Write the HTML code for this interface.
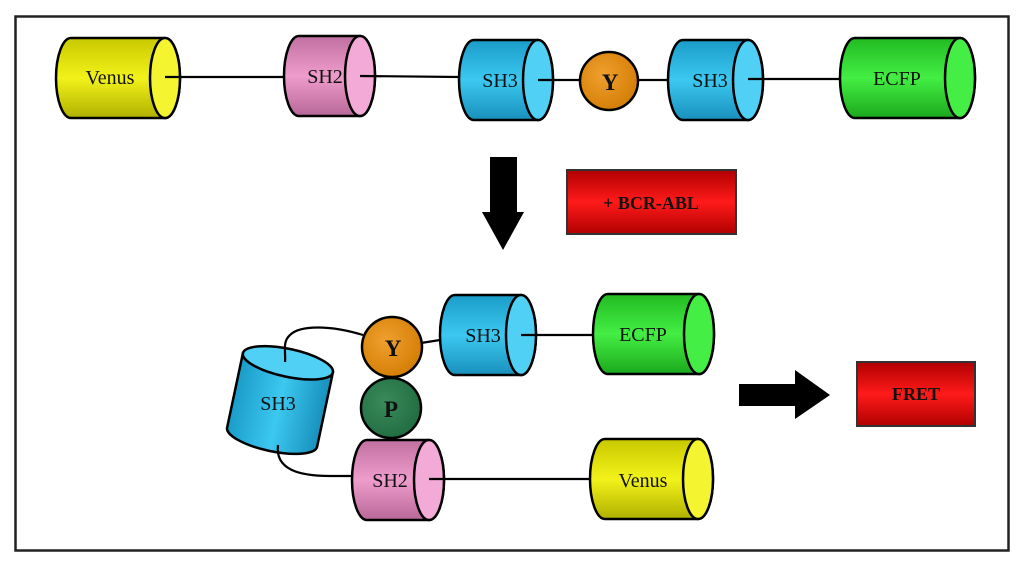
<!DOCTYPE html>
<html><head><style>body{margin:0;background:#fff}svg{display:block}</style></head><body>
<svg width="1024" height="566" viewBox="0 0 1024 566" xmlns="http://www.w3.org/2000/svg" font-family="Liberation Serif, serif">
<defs>
<linearGradient id="yel" x1="0" y1="0" x2="0" y2="1"><stop offset="0" stop-color="#c8c800"/><stop offset=".5" stop-color="#f2f21a"/><stop offset="1" stop-color="#b0b000"/></linearGradient>
<linearGradient id="pnk" x1="0" y1="0" x2="0" y2="1"><stop offset="0" stop-color="#c070a0"/><stop offset=".5" stop-color="#ee9ccc"/><stop offset="1" stop-color="#b86898"/></linearGradient>
<linearGradient id="blu" x1="0" y1="0" x2="0" y2="1"><stop offset="0" stop-color="#1a9cc8"/><stop offset=".5" stop-color="#3cc8f0"/><stop offset="1" stop-color="#1890bc"/></linearGradient>
<linearGradient id="blu2" x1="0" y1="0" x2="1" y2="0"><stop offset="0" stop-color="#1a9cc8"/><stop offset=".5" stop-color="#3cc8f0"/><stop offset="1" stop-color="#1890bc"/></linearGradient>
<linearGradient id="grn" x1="0" y1="0" x2="0" y2="1"><stop offset="0" stop-color="#22bb22"/><stop offset=".5" stop-color="#44ee44"/><stop offset="1" stop-color="#1ca81c"/></linearGradient>
<linearGradient id="red" x1="0" y1="0" x2="0" y2="1"><stop offset="0" stop-color="#b00000"/><stop offset=".5" stop-color="#ff1a1a"/><stop offset="1" stop-color="#b00000"/></linearGradient>
<radialGradient id="org" cx=".4" cy=".4" r=".7"><stop offset="0" stop-color="#f0a030"/><stop offset="1" stop-color="#d07a00"/></radialGradient>
<radialGradient id="dg" cx=".4" cy=".4" r=".7"><stop offset="0" stop-color="#3a8a5a"/><stop offset="1" stop-color="#1e6a40"/></radialGradient>
</defs>
<rect x="15.5" y="16.5" width="993" height="534" fill="none" stroke="#222" stroke-width="2.5"/>
<g stroke="#000" stroke-width="2.5">
<path d="M71 38 H165 A15 40 0 0 1 165 118 H71 A15 40 0 0 1 71 38Z" fill="url(#yel)"/><ellipse cx="165" cy="78" rx="15" ry="40" fill="#f4f430"/>
<path d="M299 36 H360 A15 40 0 0 1 360 116 H299 A15 40 0 0 1 299 36Z" fill="url(#pnk)"/><ellipse cx="360" cy="76" rx="15" ry="40" fill="#f4aad6"/>
<path d="M474 40 H538 A15 40 0 0 1 538 120 H474 A15 40 0 0 1 474 40Z" fill="url(#blu)"/><ellipse cx="538" cy="80" rx="15" ry="40" fill="#50d0f4"/>
<circle cx="609" cy="81" r="29" fill="url(#org)"/>
<path d="M683 40 H748 A15 40 0 0 1 748 120 H683 A15 40 0 0 1 683 40Z" fill="url(#blu)"/><ellipse cx="748" cy="80" rx="15" ry="40" fill="#50d0f4"/>
<path d="M855 38 H960 A15 40 0 0 1 960 118 H855 A15 40 0 0 1 855 38Z" fill="url(#grn)"/><ellipse cx="960" cy="78" rx="15" ry="40" fill="#44ee44"/>
<path d="M455 295 H521 A15 40 0 0 1 521 375 H455 A15 40 0 0 1 455 295Z" fill="url(#blu)"/><ellipse cx="521" cy="335" rx="15" ry="40" fill="#50d0f4"/>
<path d="M608 294 H699 A15 40 0 0 1 699 374 H608 A15 40 0 0 1 608 294Z" fill="url(#grn)"/><ellipse cx="699" cy="334" rx="15" ry="40" fill="#44ee44"/>
<circle cx="392" cy="347" r="30" fill="url(#org)"/>
<circle cx="391" cy="408" r="30" fill="url(#dg)"/>
<path d="M367 440 H429 A15 40 0 0 1 429 520 H367 A15 40 0 0 1 367 440Z" fill="url(#pnk)"/><ellipse cx="429" cy="480" rx="15" ry="40" fill="#f4aad6"/>
<path d="M605 439 H698 A15 40 0 0 1 698 519 H605 A15 40 0 0 1 605 439Z" fill="url(#yel)"/><ellipse cx="698" cy="479" rx="15" ry="40" fill="#f4f430"/>
<g transform="rotate(12 280 400)">
<path d="M234 362 V438 A46 14 0 0 0 326 438 V362Z" fill="url(#blu2)"/>
<ellipse cx="280" cy="362" rx="46" ry="14" fill="#50d0f4"/>
</g>
</g>
<g stroke="#000" stroke-width="2.2" fill="none">
<line x1="165" y1="77" x2="284" y2="77"/><line x1="360" y1="76" x2="459" y2="77"/>
<line x1="538" y1="80" x2="580" y2="80"/><line x1="638" y1="80" x2="668" y2="80"/>
<line x1="748" y1="79" x2="840" y2="79"/>
<line x1="421" y1="343" x2="440" y2="340"/><line x1="521" y1="335" x2="593" y2="335"/>
<line x1="429" y1="479" x2="590" y2="479"/>
<path d="M363 335 C330 325 300 325 290 335 C282 342 286 352 285 362"/>
<path d="M278 445 C275 470 300 476 330 476 L352 476"/>
</g>
<polygon points="490,157 517,157 517,212 524,212 503,250 482,212 490,212" fill="#000"/>
<polygon points="739,384 795,384 795,370 830,395 795,419 795,406 739,406" fill="#000"/>
<rect x="567" y="170" width="169" height="64" fill="url(#red)" stroke="#333" stroke-width="2"/>
<rect x="857" y="362" width="118" height="64" fill="url(#red)" stroke="#333" stroke-width="2"/>
<g font-size="20" fill="#111" text-anchor="middle">
<text x="110" y="84">Venus</text><text x="325" y="83">SH2</text><text x="500" y="87">SH3</text>
<text x="710" y="87">SH3</text><text x="897" y="85">ECFP</text>
<text x="483" y="342">SH3</text><text x="643" y="341">ECFP</text>
<text x="390" y="487">SH2</text><text x="643" y="487">Venus</text>
<text x="278" y="410">SH3</text>
</g>
<g font-size="23" font-weight="bold" fill="#111" text-anchor="middle">
<text x="610" y="90">Y</text><text x="393" y="356">Y</text><text x="391" y="417">P</text>
</g>
<text x="651" y="209" font-size="18" font-weight="bold" text-anchor="middle" fill="#111">+ BCR-ABL</text>
<text x="916" y="400" font-size="18" font-weight="bold" text-anchor="middle" fill="#111">FRET</text>
</svg>
</body></html>
